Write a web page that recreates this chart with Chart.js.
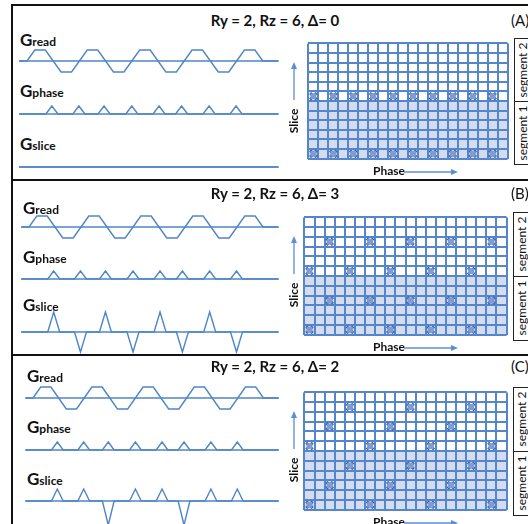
<!DOCTYPE html>
<html>
<head>
<meta charset="utf-8">
<script src="https://cdn.jsdelivr.net/npm/chart.js@4.4.1/dist/chart.umd.min.js"></script>
<style>
body { margin: 0; background: #fff; }
#page { position: relative; width: 528px; height: 524px; overflow: hidden; font-family: Lato, "Open Sans", sans-serif; color: #111; }
#page canvas { position: absolute; }
.txt { position: absolute; white-space: nowrap; }
.rule { position: absolute; background: #111; }
.segbox { position: absolute; border: 1px solid #222; background: #fff; box-sizing: border-box; }
</style>
</head>
<body>
<div id="page"></div>
<script>
// ---- data ----
const ry = 2, rz = 6;
const deltas = [0, 3, 2];
const panelTags = ['(A)', '(B)', '(C)'];

// readout: one trapezoid per echo, polarity alternates
const readLobes = [1, -1, 1, -1, 1, -1, 1, -1, 1];
const readAmp = 1.375;
const readRamp = 0.3;
const axisSpan = [-0.3, 9.6];

// phase blips (time in echo units) and their heights
const phaseBlipTimes = [0.95, 1.98, 2.94, 4.0, 5.04, 5.9, 6.95, 7.98];
const phaseBlipAmp = [1, 1, 1, 1, 1, 1, 1, 1];
const blipHalfWidth = 0.23;

// slice blips per panel, same times as the phase blips
const sliceBlipsA = [0, 0, 0, 0, 0, 0, 0, 0];
const sliceBlipsB = [2.5, -2.5, 2.5, -2.5, 2.5, -2.5, 2.5, -2.5];
const sliceBlipsC = [1.5, 1.5, -3, 1.5, 1.5, -3, 1.5, 1.5];

// k-space sampling, rows top (kz high) to bottom, 20 phase columns
const gridCols = 20, gridRows = 12, segmentRows = 6;
const samplingA = [
  '....................',
  '....................',
  '....................',
  '....................',
  '....................',
  'x.x.x.x.x.x.x.x.x.x.',
  '....................',
  '....................',
  '....................',
  '....................',
  '....................',
  'x.x.x.x.x.x.x.x.x.x.'
];
const samplingB = [
  '....................',
  '....................',
  '..x...x...x...x...x.',
  '....................',
  '....................',
  'x...x...x...x...x...',
  '....................',
  '....................',
  '..x...x...x...x...x.',
  '....................',
  '....................',
  'x...x...x...x...x...'
];
const samplingC = [
  '....................',
  '....x.....x.....x...',
  '....................',
  '..x.....x.....x.....',
  '....................',
  'x.....x.....x.....x.',
  '....................',
  '....x.....x.....x...',
  '....................',
  '..x.....x.....x.....',
  '....................',
  'x.....x.....x.....x.'
];

// ---- layout (pixels) ----
const panels = [
  { titleBase: 26, labelX: 20, labelBase: [46, 97, 150], base: [61, 114, 167], readStart: 27, lobe: 26.2,
    grid: { l: 303, t: 38, r: 513, b: 164 }, slice: sliceBlipsA, sampling: samplingA },
  { titleBase: 199, labelX: 23, labelBase: [214, 263, 311], base: [227, 279, 332], readStart: 29, lobe: 26,
    grid: { l: 299, t: 212, r: 512, b: 340 }, slice: sliceBlipsB, sampling: samplingB },
  { titleBase: 372, labelX: 27, labelBase: [382, 433, 485], base: [398, 450, 501], readStart: 33, lobe: 25.6,
    grid: { l: 299, t: 387, r: 512, b: 515 }, slice: sliceBlipsC, sampling: samplingC }
];
const ruleY = [5, 180, 355];

const waveColor = '#4f86c8';
const gridColor = '#5586cc';
const seg1Fill = '#d3ddef';
const arrowColor = '#5b8ed6';
const unitPx = 8;

const page = document.getElementById('page');

function addText(str, x, baseline, size, weight, extra) {
  const d = document.createElement('div');
  d.className = 'txt';
  d.textContent = str;
  d.style.fontSize = size + 'px';
  d.style.lineHeight = size + 'px';
  d.style.fontWeight = weight;
  d.style.left = x + 'px';
  d.style.top = (baseline - 0.89 * size) + 'px';
  if (extra) Object.assign(d.style, extra);
  page.appendChild(d);
  return d;
}

function addRotated(str, cx, cy, size, weight) {
  const d = document.createElement('div');
  d.className = 'txt';
  d.textContent = str;
  d.style.fontSize = size + 'px';
  d.style.lineHeight = size + 'px';
  d.style.fontWeight = weight;
  d.style.left = cx + 'px';
  d.style.top = cy + 'px';
  d.style.transform = 'translate(-50%,-50%) rotate(-90deg)';
  page.appendChild(d);
}

function addGLabel(sub, x, baseline) {
  const d = document.createElement('div');
  d.className = 'txt';
  d.style.left = x + 'px';
  d.style.top = (baseline - 14) + 'px';
  d.style.fontWeight = 'bold';
  d.style.lineHeight = '16px';
  d.innerHTML = '<span style="font-size:17px">G</span><span style="font-size:12px">' + sub + '</span>';
  page.appendChild(d);
}

function makeChart(left, top, w, h, config) {
  const c = document.createElement('canvas');
  c.width = w; c.height = h;
  c.style.left = left + 'px';
  c.style.top = top + 'px';
  page.appendChild(c);
  return new Chart(c, config);
}

function readPoints() {
  const pts = [{ x: axisSpan[0], y: 0 }];
  readLobes.forEach((p, i) => {
    pts.push({ x: i, y: 0 });
    pts.push({ x: i + readRamp, y: p * readAmp });
    pts.push({ x: i + 1 - readRamp, y: p * readAmp });
    pts.push({ x: i + 1, y: 0 });
  });
  pts.push({ x: axisSpan[1], y: 0 });
  return pts;
}

function blipPoints(times, amps) {
  const pts = [{ x: axisSpan[0], y: 0 }];
  times.forEach((t, i) => {
    pts.push({ x: t - blipHalfWidth, y: 0 });
    pts.push({ x: t, y: amps[i] });
    pts.push({ x: t + blipHalfWidth, y: 0 });
  });
  pts.push({ x: axisSpan[1], y: 0 });
  return pts;
}

function waveChart(p, baseY, points) {
  const left = 14, right = 286, half = 32;
  makeChart(left, baseY - half, right - left, 2 * half, {
    type: 'line',
    data: {
      datasets: [
        { data: [{ x: axisSpan[0], y: 0 }, { x: axisSpan[1], y: 0 }] },
        { data: points }
      ]
    },
    options: {
      animation: false, responsive: false, events: [],
      layout: { padding: 0 },
      plugins: { legend: { display: false }, tooltip: { enabled: false } },
      elements: {
        point: { radius: 0 },
        line: { borderWidth: 1.4, borderColor: waveColor, tension: 0, borderJoinStyle: 'miter' }
      },
      scales: {
        x: { type: 'linear', display: false, min: (left - p.readStart) / p.lobe, max: (right - p.readStart) / p.lobe },
        y: { type: 'linear', display: false, min: -half / unitPx, max: half / unitPx }
      }
    }
  });
}

function samplePoints(rows) {
  const pts = [];
  rows.forEach((row, r) => {
    for (let c = 0; c < row.length; c++) {
      if (row[c] === 'x') pts.push({ x: c + 0.5, y: gridRows - r - 0.5 });
    }
  });
  return pts;
}

function gridChart(g, rows) {
  const pad = 2;
  const pts = samplePoints(rows);
  const axis = (max) => ({
    type: 'linear', min: 0, max: max,
    ticks: { display: false, stepSize: 1, maxTicksLimit: 100, autoSkip: false },
    grid: { color: gridColor, lineWidth: 2, drawTicks: false },
    border: { display: false }
  });
  makeChart(g.l - pad, g.t - pad, g.r - g.l + 2 * pad, g.b - g.t + 2 * pad, {
    type: 'scatter',
    data: {
      datasets: [
        { type: 'line', data: [{ x: 0, y: segmentRows }, { x: gridCols, y: segmentRows }],
          fill: 'start', backgroundColor: seg1Fill, borderWidth: 0, pointRadius: 0 },
        { data: pts, pointStyle: 'rect', pointRadius: 4.2, backgroundColor: '#7f9dd2', borderWidth: 0 },
        { data: pts, pointStyle: 'crossRot', pointRadius: 4.6, borderColor: '#2955a0', borderWidth: 2.8 }
      ]
    },
    options: {
      animation: false, responsive: false, events: [],
      layout: { padding: pad },
      plugins: { legend: { display: false }, tooltip: { enabled: false }, filler: { drawTime: 'beforeDraw' } },
      scales: { x: axis(gridCols), y: axis(gridRows) }
    }
  });
}

// ---- frame ----
ruleY.forEach(y => {
  const d = document.createElement('div');
  d.className = 'rule';
  Object.assign(d.style, { left: '11px', top: (y - 1) + 'px', width: '520px', height: '2px' });
  page.appendChild(d);
});
const vr = document.createElement('div');
vr.className = 'rule';
Object.assign(vr.style, { left: '11px', top: '4px', width: '2px', height: '530px' });
page.appendChild(vr);

// arrows overlay
const svgNS = 'http://www.w3.org/2000/svg';
const svg = document.createElementNS(svgNS, 'svg');
svg.setAttribute('width', 528); svg.setAttribute('height', 524);
svg.style.position = 'absolute'; svg.style.left = '0'; svg.style.top = '0';

function svgEl(tag, attrs) {
  const e = document.createElementNS(svgNS, tag);
  for (const k in attrs) e.setAttribute(k, attrs[k]);
  svg.appendChild(e);
}

panels.forEach((p, i) => {
  const g = p.grid;
  addText('Ry = ' + ry + ', Rz = ' + rz + ', \u0394= ' + deltas[i], 275, p.titleBase, 15, 'bold', { transform: 'translateX(-50%)' });
  addText(panelTags[i], 511, p.titleBase, 15, 'normal');

  addGLabel('read', p.labelX, p.labelBase[0]);
  addGLabel('phase', p.labelX, p.labelBase[1]);
  addGLabel('slice', p.labelX, p.labelBase[2]);

  waveChart(p, p.base[0], readPoints());
  waveChart(p, p.base[1], blipPoints(phaseBlipTimes, phaseBlipAmp));
  waveChart(p, p.base[2], blipPoints(phaseBlipTimes, p.slice));

  gridChart(g, p.sampling);

  // segment boxes
  const mid = (g.t + g.b) / 2;
  [[g.t, mid, 'segment 2'], [mid, g.b, 'segment 1']].forEach(([t0, t1, label]) => {
    const b = document.createElement('div');
    b.className = 'segbox';
    Object.assign(b.style, { left: (g.r + 1) + 'px', top: t0 + 'px', width: '30px', height: (t1 - t0 + 1) + 'px' });
    page.appendChild(b);
    addRotated(label, g.r + 10, (t0 + t1) / 2, 12, 'normal');
  });

  // axis captions
  addRotated('Slice', 294, g.t + 83, 12, 'bold');
  addText('Phase', 373, g.b + 12, 12, 'bold');

  svgEl('line', { x1: 294, y1: g.t + 62, x2: 294, y2: g.t + 30, stroke: arrowColor, 'stroke-width': 1.3 });
  svgEl('polygon', { points: `${291},${g.t + 31} ${297},${g.t + 31} ${294},${g.t + 24}`, fill: arrowColor });
  svgEl('line', { x1: 404, y1: g.b + 8, x2: 452, y2: g.b + 8, stroke: arrowColor, 'stroke-width': 1.3 });
  svgEl('polygon', { points: `${451},${g.b + 5} ${451},${g.b + 11} ${458},${g.b + 8}`, fill: arrowColor });
});
page.appendChild(svg);
</script>
</body>
</html>
